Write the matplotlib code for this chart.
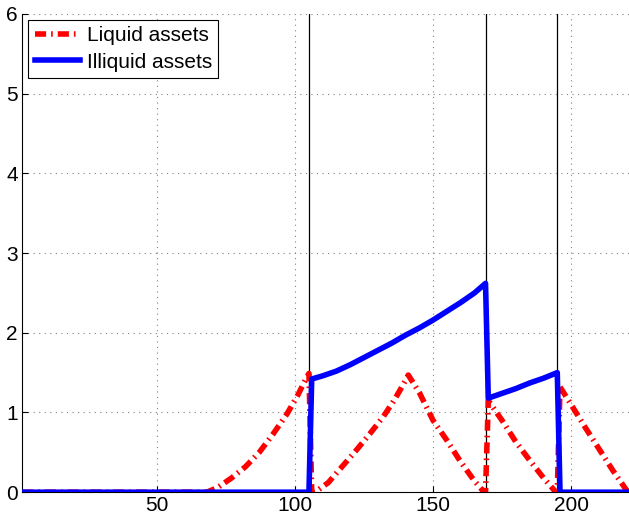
import numpy as np
from matplotlib import pyplot as plt

plt.rcParams['font.family'] = ['Liberation Sans', 'DejaVu Sans']

# liquid assets (red dash-dot)
liquid_x = [1, 68, 72, 77, 82, 87, 92, 97, 101, 103, 105, 106, 108, 112, 117, 122, 127,
            132, 136, 139, 141, 145, 150, 155, 160, 165, 168, 169, 170, 175, 180, 185,
            190, 194, 195, 196, 200, 205, 210, 215, 220, 221]
liquid_y = [0, 0, 0.06, 0.18, 0.32, 0.5, 0.73, 0.98, 1.22, 1.36, 1.49, 0, 0.02, 0.12, 0.32,
            0.52, 0.73, 0.95, 1.16, 1.34, 1.47, 1.25, 0.9, 0.65, 0.38, 0.14, 0.02, 0, 1.15,
            0.9, 0.63, 0.4, 0.18, 0.02, 0, 1.32, 1.1, 0.82, 0.55, 0.28, 0.03, 0]

# illiquid assets (blue solid)
illiquid_x = [1, 105, 106, 110, 115, 120, 125, 130, 135, 140, 145, 150, 155, 160, 165, 169,
              170, 175, 180, 185, 190, 195, 196, 221]
illiquid_y = [0, 0, 1.42, 1.46, 1.52, 1.6, 1.69, 1.78, 1.87, 1.97, 2.06, 2.16, 2.27, 2.38,
              2.5, 2.62, 1.18, 1.24, 1.3, 1.37, 1.43, 1.5, 0, 0]

event_x = [105, 169, 195]

fig = plt.figure(figsize=(6.29, 5.17), dpi=100)
ax = fig.add_axes([0.035, 0.048, 0.965, 0.925])

for xv in event_x:
    ax.axvline(xv, color='black', lw=0.9, zorder=1)

ax.plot(liquid_x, liquid_y, color='red', lw=4, dashes=(2.0, 0.9, 0.3, 0.9),
        label='Liquid assets', zorder=2)
ax.plot(illiquid_x, illiquid_y, color='blue', lw=4, label='Illiquid assets', zorder=3)

ax.set_xlim(1, 221)
ax.set_ylim(0, 6)
ax.set_xticks([50, 100, 150, 200])
ax.set_yticks([0, 1, 2, 3, 4, 5, 6])
ax.grid(True, color='#808080', linestyle=(0, (1, 4)), lw=0.8)
ax.tick_params(direction='in', length=4, labelsize=15, pad=3)
ax.spines['top'].set_visible(False)
ax.spines['right'].set_visible(False)

leg = ax.legend(loc='upper left', fontsize=15, fancybox=False, framealpha=1,
                edgecolor='black', handlelength=2.2, borderaxespad=0.3,
                borderpad=0.3, labelspacing=0.35, handletextpad=0.3)
leg.get_frame().set_linewidth(0.8)

fig.savefig('out.png', dpi=100)
